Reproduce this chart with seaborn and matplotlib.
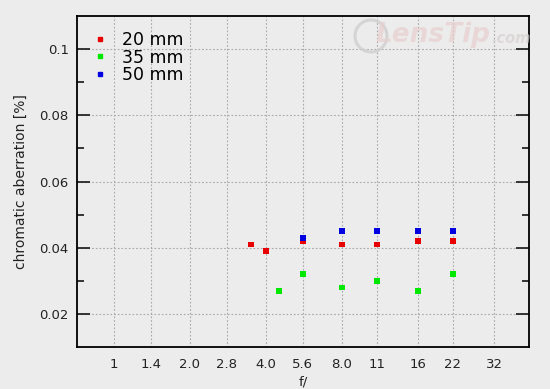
import numpy as np
import pandas as pd
import matplotlib
matplotlib.use("Agg")
import matplotlib.pyplot as plt
import seaborn as sns
from matplotlib.ticker import FixedLocator
from matplotlib.lines import Line2D
from matplotlib.patches import Ellipse

# Data
aperture_20 = [3.5, 4.0, 5.6, 8.0, 11, 16, 22]
ca_20 = [0.041, 0.039, 0.042, 0.041, 0.041, 0.042, 0.042]
aperture_35 = [4.5, 5.6, 8.0, 11, 16, 22]
ca_35 = [0.027, 0.032, 0.028, 0.030, 0.027, 0.032]
aperture_50 = [5.6, 8.0, 11, 16, 22]
ca_50 = [0.043, 0.045, 0.045, 0.045, 0.045]
series_names = ["20 mm", "35 mm", "50 mm"]
tick_values = [1, 1.4, 2.0, 2.8, 4.0, 5.6, 8.0, 11, 16, 22, 32]
tick_labels = ["1", "1.4", "2.0", "2.8", "4.0", "5.6", "8.0", "11", "16", "22", "32"]

df = pd.concat([
    pd.DataFrame({"f": aperture_20, "ca": ca_20, "lens": series_names[0]}),
    pd.DataFrame({"f": aperture_35, "ca": ca_35, "lens": series_names[1]}),
    pd.DataFrame({"f": aperture_50, "ca": ca_50, "lens": series_names[2]}),
])

sns.set_style("white")
plt.rcParams['font.family'] = ['DejaVu Sans']
bg = "#ececec"
fig = plt.figure(figsize=(5.5, 3.89), dpi=100, facecolor=bg)
ax = fig.add_axes([77/550, 42/389, 452/550, 331/389])
ax.set_facecolor(bg)

palette = {"20 mm": "#e80000", "35 mm": "#00e800", "50 mm": "#0000e0"}
sns.scatterplot(data=df, x="f", y="ca", hue="lens", palette=palette, marker="s",
                s=17, linewidth=0, ax=ax, legend=False, zorder=3)

ax.set_xscale("log", base=2)
ax.set_xlim(0.714, 44)
ax.set_ylim(0.01, 0.11)
ax.set_xticks(tick_values)
ax.set_xticklabels(tick_labels)
ax.xaxis.set_minor_locator(FixedLocator([]))
ax.yaxis.set_major_locator(FixedLocator([0.02, 0.04, 0.06, 0.08, 0.1]))
ax.set_yticklabels(["0.02", "0.04", "0.06", "0.08", "0.1"])
ax.yaxis.set_minor_locator(FixedLocator([0.03, 0.05, 0.07, 0.09]))

ax.grid(True, which="major", color="#a8a8a8", linestyle=(0, (1.5, 1.8)), linewidth=0.8)
ax.tick_params(axis="x", which="both", length=0, labelsize=9.5, colors="#222222", pad=8)
ax.tick_params(axis="y", which="major", direction="in", length=9.5, width=1.3,
               left=True, right=True, labelsize=9.5, labelcolor="#222222", pad=6)
ax.tick_params(axis="y", which="minor", direction="in", length=5, width=1.3,
               left=True, right=True)
for sp in ax.spines.values():
    sp.set_color("black")
    sp.set_linewidth(1.3)
    sp.set_visible(True)

ax.set_xlabel("f/", fontsize=9.5, color="#222222", labelpad=3)
ax.set_ylabel("chromatic aberration [%]", fontsize=10, color="#222222", labelpad=8)

# Legend
handles = [Line2D([], [], marker="s", linestyle="", color=palette[n], markersize=3.5) for n in series_names]
leg = ax.legend(handles, series_names, loc="upper left", bbox_to_anchor=(0.012, 0.985),
                frameon=False, fontsize=12.5, handletextpad=0.9, labelspacing=-0.05,
                handlelength=0.8, borderaxespad=0.2, labelcolor="black")

# Watermark
fig.add_artist(Ellipse((371/550, 1 - 36/389), 32/550, 32/389, transform=fig.transFigure,
                       fill=False, edgecolor="#cfcfcf", linewidth=2.2, alpha=0.8, zorder=2))
fig.text(0.891, 0.91, "LensTip", fontsize=19, fontstyle="italic", fontweight="bold",
         color="#e8cfcf", alpha=0.7, ha="right", va="center", zorder=2)
fig.text(0.893, 0.902, ".com", fontsize=10.5, fontstyle="italic", fontweight="bold",
         color="#d8d0d0", alpha=0.7, ha="left", va="center", zorder=2)

fig.savefig("out.png", dpi=100, facecolor=bg)
